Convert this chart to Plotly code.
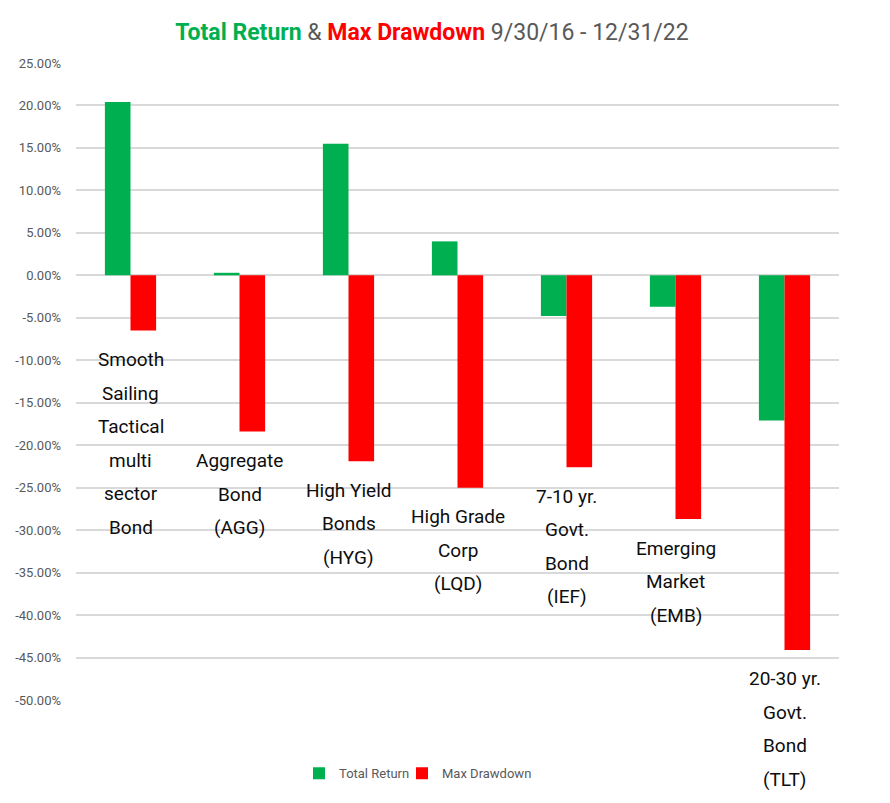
import plotly.graph_objects as go

categories = [
    "Smooth\nSailing\nTactical\nmulti\nsector\nBond",
    "Aggregate\nBond\n(AGG)",
    "High Yield\nBonds\n(HYG)",
    "High Grade\nCorp\n(LQD)",
    "7-10 yr.\nGovt.\nBond\n(IEF)",
    "Emerging\nMarket\n(EMB)",
    "20-30 yr.\nGovt.\nBond\n(TLT)",
]
total_return = [20.4, 0.3, 15.5, 4.0, -4.8, -3.7, -17.1]
max_drawdown = [-6.5, -18.4, -21.9, -25.0, -22.6, -28.7, -44.1]
y_ticks = [25, 20, 15, 10, 5, 0, -5, -10, -15, -20, -25, -30, -35, -40, -45, -50]

GREEN = "#00B050"
RED = "#FF0000"
FONT = "Roboto, sans-serif"

x_idx = list(range(len(categories)))

fig = go.Figure()
fig.add_trace(go.Bar(x=x_idx, y=total_return, name="Total Return",
                     marker=dict(color=GREEN, line=dict(width=0)),
                     legendwidth=58))
fig.add_trace(go.Bar(x=x_idx, y=max_drawdown, name="Max Drawdown",
                     marker=dict(color=RED, line=dict(width=0)),
                     legendwidth=110))

annotations = []
for i, (cat, tr, md) in enumerate(zip(categories, total_return, max_drawdown)):
    low = min(tr, md)
    for k, line in enumerate(cat.split("\n")):
        annotations.append(dict(
            x=i, y=low, xref="x", yref="y", text=line, showarrow=False,
            xanchor="center", yanchor="middle", yshift=-(29 + 33.5 * k),
            font=dict(family=FONT, size=19, color="#0d0d0d"),
        ))

title_text = (
    f"<b><span style='color:{GREEN}'>Total Return</span></b>"
    f"<span style='color:#595959'> &amp; </span>"
    f"<b><span style='color:{RED}'>Max Drawdown</span></b>"
    f"<span style='color:#595959'> 9/30/16 - 12/31/22</span>"
)

fig.update_layout(
    width=890, height=803,
    margin=dict(l=68, r=59, t=55, b=111),
    paper_bgcolor="white", plot_bgcolor="white",
    barmode="group", bargap=0.53, bargroupgap=0,
    title=dict(text=title_text, x=424 / 890, xanchor="center", xref="container",
               y=1 - 24 / 803, yanchor="middle",
               font=dict(family=FONT, size=23)),
    font=dict(family=FONT),
    xaxis=dict(range=[-0.5, len(categories) - 0.5], showticklabels=False,
               showgrid=False, zeroline=False, showline=False, ticks="",
               automargin=False),
    yaxis=dict(range=[-50, 25], tickvals=y_ticks,
               ticktext=[f"{v:.2f}%" for v in y_ticks],
               tickfont=dict(family=FONT, size=13, color="#595959"),
               showgrid=True, gridcolor="#D9D9D9", gridwidth=2,
               zeroline=True, zerolinecolor="#D9D9D9", zerolinewidth=2,
               showline=False, ticks="", ticklabelstandoff=14,
               automargin=False),
    legend=dict(orientation="h", x=(291 - 68) / 763, xanchor="left", y=-0.115,
                yanchor="middle", font=dict(family=FONT, size=13, color="#595959"),
                itemwidth=30, tracegroupgap=0),
    annotations=annotations,
)

fig.write_html("out.html")
